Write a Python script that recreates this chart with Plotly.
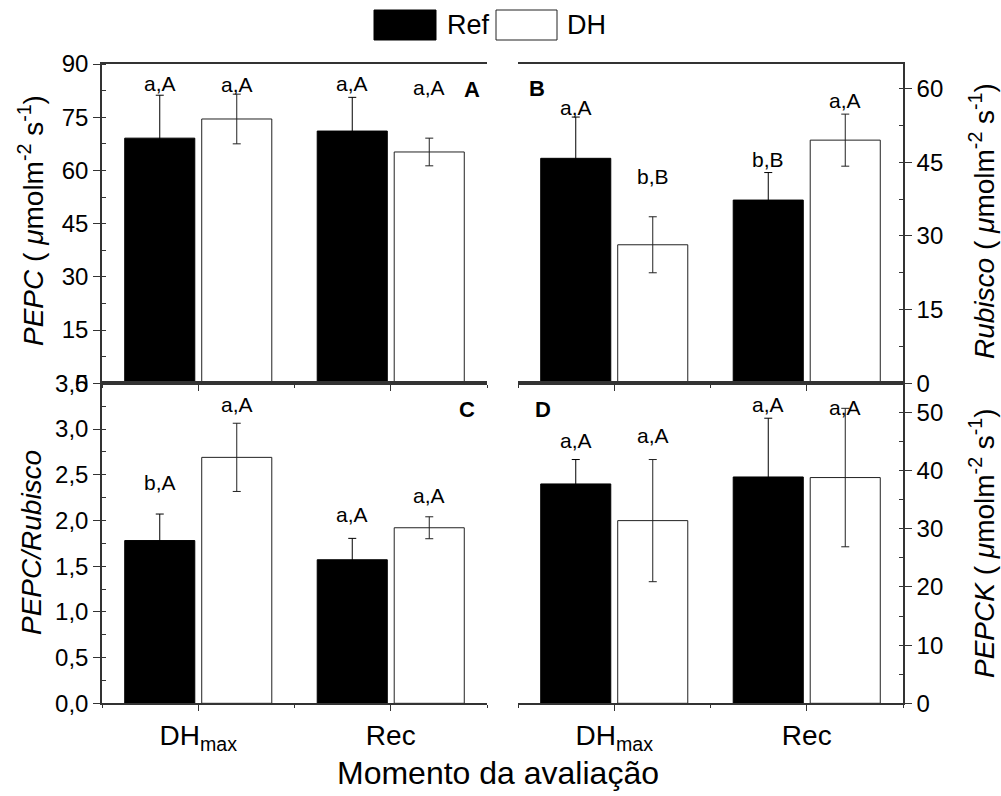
import plotly.graph_objects as go

# ---------------- data ----------------
categories = ["DH<sub>max</sub>", "Rec"]
cat_pos = [1, 2]

pepc_ref = [69.1, 71.1]
pepc_ref_err = [12.1, 9.5]
pepc_dh = [74.5, 65.2]
pepc_dh_err = [7.0, 3.9]
pepc_lbl_ref = ["a,A", "a,A"]
pepc_lbl_dh = ["a,A", "a,A"]
pepc_lbl_ref_y = [84.6, 84.6]
pepc_lbl_dh_y = [84.2, 83.5]

rub_ref = [45.8, 37.3]
rub_ref_err = [8.4, 5.6]
rub_dh = [28.2, 49.5]
rub_dh_err = [5.7, 5.3]
rub_lbl_ref = ["a,A", "b,B"]
rub_lbl_dh = ["b,B", "a,A"]
rub_lbl_ref_y = [56.2, 45.6]
rub_lbl_dh_y = [42.0, 57.5]

ratio_ref = [1.78, 1.57]
ratio_ref_err = [0.29, 0.234]
ratio_dh = [2.69, 1.92]
ratio_dh_err = [0.373, 0.12]
ratio_lbl_ref = ["b,A", "a,A"]
ratio_lbl_dh = ["a,A", "a,A"]
ratio_lbl_ref_y = [2.415, 2.067]
ratio_lbl_dh_y = [3.264, 2.276]

pepck_ref = [37.7, 38.9]
pepck_ref_err = [4.2, 10.1]
pepck_dh = [31.4, 38.8]
pepck_dh_err = [10.5, 11.9]
pepck_lbl_ref = ["a,A", "a,A"]
pepck_lbl_dh = ["a,A", "a,A"]
pepck_lbl_ref_y = [45.1, 51.3]
pepck_lbl_dh_y = [46.0, 50.9]

series_names = ["Ref", "DH"]
panel_letters = ["A", "B", "C", "D"]

# ---------------- layout constants ----------------
W, H = 1001, 796
FONT = "Liberation Sans, Arial, sans-serif"
LINE = "#333333"

def px_x(p):
    return p / W

def px_y(p):
    return 1 - p / H

xL = [px_x(102), px_x(487)]
xR = [px_x(518), px_x(903)]
yT = [px_y(383.3), px_y(64)]
yB = [px_y(703.3), px_y(383.3)]

fig = go.Figure()

panels = [
    dict(x="x", y="y", ref=pepc_ref, rerr=pepc_ref_err, dh=pepc_dh, derr=pepc_dh_err,
         lr=pepc_lbl_ref, ld=pepc_lbl_dh, lry=pepc_lbl_ref_y, ldy=pepc_lbl_dh_y),
    dict(x="x2", y="y2", ref=rub_ref, rerr=rub_ref_err, dh=rub_dh, derr=rub_dh_err,
         lr=rub_lbl_ref, ld=rub_lbl_dh, lry=rub_lbl_ref_y, ldy=rub_lbl_dh_y),
    dict(x="x3", y="y3", ref=ratio_ref, rerr=ratio_ref_err, dh=ratio_dh, derr=ratio_dh_err,
         lr=ratio_lbl_ref, ld=ratio_lbl_dh, lry=ratio_lbl_ref_y, ldy=ratio_lbl_dh_y),
    dict(x="x4", y="y4", ref=pepck_ref, rerr=pepck_ref_err, dh=pepck_dh, derr=pepck_dh_err,
         lr=pepck_lbl_ref, ld=pepck_lbl_dh, lry=pepck_lbl_ref_y, ldy=pepck_lbl_dh_y),
]

annotations = []
OFF = 0.2
for p in panels:
    fig.add_trace(go.Bar(
        x=cat_pos, y=p["ref"], name=series_names[0], xaxis=p["x"], yaxis=p["y"],
        marker=dict(color="black", line=dict(color="black", width=1)),
        error_y=dict(type="data", array=p["rerr"], color="black", thickness=1, width=4),
        showlegend=False, offsetgroup="ref"))
    fig.add_trace(go.Bar(
        x=cat_pos, y=p["dh"], name=series_names[1], xaxis=p["x"], yaxis=p["y"],
        marker=dict(color="white", line=dict(color="#222222", width=1)),
        error_y=dict(type="data", array=p["derr"], color="#222222", thickness=1, width=4),
        showlegend=False, offsetgroup="dh"))
    for i, c in enumerate(cat_pos):
        annotations.append(dict(x=c - OFF, y=p["lry"][i], xref=p["x"], yref=p["y"],
                                text=p["lr"][i], showarrow=False, yanchor="middle",
                                font=dict(size=21, color="black", family=FONT)))
        annotations.append(dict(x=c + OFF, y=p["ldy"][i], xref=p["x"], yref=p["y"],
                                text=p["ld"][i], showarrow=False, yanchor="middle",
                                font=dict(size=21, color="black", family=FONT)))

# panel letters
letter_pos = [(472, 89.5), (537, 88.5), (467, 410), (543, 410)]
for L, (lx, ly) in zip(panel_letters, letter_pos):
    annotations.append(dict(x=px_x(lx), y=px_y(ly), xref="paper", yref="paper",
                            text="<b>%s</b>" % L, showarrow=False,
                            xanchor="center", yanchor="middle",
                            font=dict(size=22, color="black", family=FONT)))

unit = " ( <i>μ</i>molm<sup>-2</sup> s<sup>-1</sup>)"
axis_titles = [
    ("<i>PEPC</i>" + unit, 31, 221),
    ("<i>PEPC/Rubisco</i>", 31, 543),
    ("<i>Rubisco</i>" + unit, 982, 221),
    ("<i>PEPCK</i>" + unit, 982, 543),
]
for t, ax_, ay_ in axis_titles:
    annotations.append(dict(x=px_x(ax_), y=px_y(ay_), xref="paper", yref="paper",
                            text=t, showarrow=False, textangle=-90,
                            xanchor="center", yanchor="middle",
                            font=dict(size=28, color="black", family=FONT)))

annotations.append(dict(x=px_x(498), y=px_y(773), xref="paper", yref="paper",
                        text="Momento da avaliação", showarrow=False,
                        xanchor="center", yanchor="middle",
                        font=dict(size=32, color="black", family=FONT)))

# manual legend
shapes = [
    dict(type="rect", xref="paper", yref="paper", x0=px_x(374), x1=px_x(436),
         y0=px_y(40), y1=px_y(10), fillcolor="black", line=dict(color="black", width=1)),
    dict(type="rect", xref="paper", yref="paper", x0=px_x(496), x1=px_x(557),
         y0=px_y(40), y1=px_y(10), fillcolor="white", line=dict(color="#222222", width=1)),
]
annotations.append(dict(x=px_x(445), y=px_y(25), xref="paper", yref="paper", text=series_names[0],
                        showarrow=False, xanchor="left", yanchor="middle",
                        font=dict(size=27, color="black", family=FONT)))
annotations.append(dict(x=px_x(565), y=px_y(25), xref="paper", yref="paper", text=series_names[1],
                        showarrow=False, xanchor="left", yanchor="middle",
                        font=dict(size=27, color="black", family=FONT)))

tickfont_y = dict(size=24, color="black", family=FONT)
tickfont_x = dict(size=28, color="black", family=FONT)


def xax(domain, anchor, labels):
    return dict(domain=domain, anchor=anchor, range=[0.5, 2.5],
                tickmode="array", tickvals=cat_pos, ticktext=categories,
                showticklabels=labels, ticks="outside", ticklen=6, tickwidth=1,
                tickcolor=LINE, showline=True, linecolor=LINE, linewidth=1.5,
                mirror=True, showgrid=False, zeroline=False, tickfont=tickfont_x,
                automargin=False,
                minor=dict(tickmode="array", tickvals=[0.5, 1.5, 2.5], ticks="outside",
                           ticklen=3, tickcolor=LINE, showgrid=False))


def yax(domain, anchor, rng, dtick, side, fmt=None):
    d = dict(domain=domain, anchor=anchor, range=rng, dtick=dtick, tick0=0,
             side=side, ticks="outside", ticklen=7, tickwidth=1, tickcolor=LINE,
             showline=True, linecolor=LINE, linewidth=1.5, showgrid=False,
             zeroline=False, tickfont=tickfont_y, automargin=False,
             minor=dict(dtick=dtick / 2, tick0=0, ticks="inside", ticklen=4,
                        tickcolor=LINE, showgrid=False))
    if fmt:
        d["tickformat"] = fmt
    return d


def yov(over, anchor, rng, dtick, side):
    return dict(overlaying=over, anchor=anchor, range=rng, dtick=dtick, tick0=0,
                side=side, ticks="inside", ticklen=7, tickwidth=1, tickcolor=LINE,
                showline=True, linecolor=LINE, linewidth=1.5, showgrid=False,
                zeroline=False, showticklabels=False, automargin=False,
                minor=dict(dtick=dtick / 2, tick0=0, ticks="inside", ticklen=4,
                           tickcolor=LINE, showgrid=False))


fig.update_layout(
    width=W, height=H,
    margin=dict(l=0, r=0, t=0, b=0, pad=0, autoexpand=False),
    paper_bgcolor="white", plot_bgcolor="white",
    separators=",.",
    barmode="group", bargap=0.2, bargroupgap=0.09,
    showlegend=False,
    font=dict(family=FONT, color="black"),
    xaxis=xax(xL, "y", False),
    xaxis2=xax(xR, "y2", False),
    xaxis3=xax(xL, "y3", True),
    xaxis4=xax(xR, "y4", True),
    yaxis=yax(yT, "x", [0, 90], 15, "left"),
    yaxis2=yax(yT, "x2", [0, 65], 15, "right"),
    yaxis3=yax(yB, "x3", [0, 3.5], 0.5, "left", ".1f"),
    yaxis4=yax(yB, "x4", [0, 55], 10, "right"),
    yaxis5=yov("y", "x", [0, 90], 15, "right"),
    yaxis6=yov("y2", "x2", [0, 65], 15, "left"),
    yaxis7=yov("y3", "x3", [0, 3.5], 0.5, "right"),
    yaxis8=yov("y4", "x4", [0, 55], 10, "left"),
    annotations=annotations,
    shapes=shapes,
)

fig.write_html("out.html")
